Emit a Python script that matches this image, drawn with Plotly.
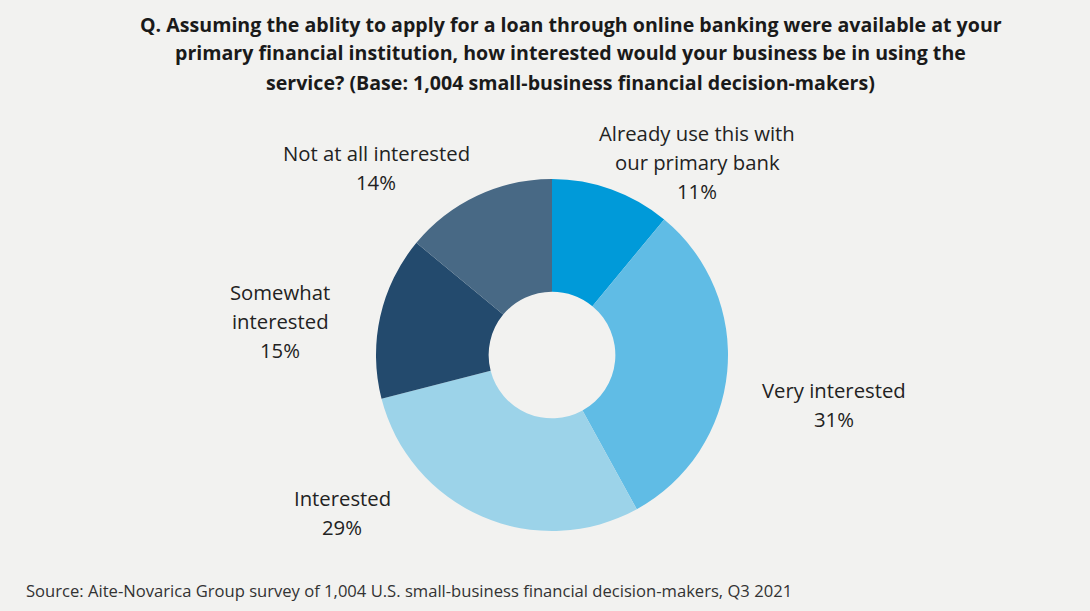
import plotly.graph_objects as go

# Survey responses (share of 1,004 respondents)
categories = [
    "Already use this with our primary bank",
    "Very interested",
    "Interested",
    "Somewhat interested",
    "Not at all interested",
]
shares = [11, 31, 29, 15, 14]
slice_colors = ["#009AD9", "#60BCE5", "#9CD3E9", "#234A6D", "#486985"]

# Label line breaks and placement (pixel centres in the 1090x611 canvas)
label_lines = [
    ["Already use this with", "our primary bank"],
    ["Very interested"],
    ["Interested"],
    ["Somewhat", "interested"],
    ["Not at all interested"],
]
label_pos = [(697, 133), (834, 390), (342, 498), (280, 292), (376, 153)]

title_lines = [
    "Q. Assuming the ablity to apply for a loan through online banking were available at your",
    "primary financial institution, how interested would your business be in using the",
    "service? (Base: 1,004 small-business financial decision-makers)",
]
source_text = "Source: Aite-Novarica Group survey of 1,004 U.S. small-business financial decision-makers, Q3 2021"

W, H = 1090, 611
FONT = "'Open Sans', Lato, sans-serif"
LINE = 29

cx, cy, r = 552, 355, 176

fig = go.Figure(
    go.Pie(
        labels=categories,
        values=shares,
        hole=0.36,
        sort=False,
        direction="clockwise",
        rotation=0,
        marker=dict(colors=slice_colors, line=dict(width=0)),
        textinfo="none",
        hoverinfo="label+percent",
        showlegend=False,
        domain=dict(
            x=[(cx - r) / W, (cx + r) / W],
            y=[(H - cy - r) / H, (H - cy + r) / H],
        ),
    )
)


def px_ann(x, y, text, size, bold=False, color="#222222", xanchor="center"):
    return dict(
        x=x / W, y=1 - y / H, xref="paper", yref="paper",
        xanchor=xanchor, yanchor="middle", showarrow=False,
        text=f"<b>{text}</b>" if bold else text,
        font=dict(family=FONT, size=size, color=color),
    )


annotations = []
for i, line in enumerate(title_lines):
    annotations.append(px_ann(571, 24 + i * LINE, line, 19.6, bold=True, color="#1a1a1a"))

for lines, share, (x, y) in zip(label_lines, shares, label_pos):
    rows = lines + [f"{share}%"]
    for j, row in enumerate(rows):
        annotations.append(px_ann(x, y + j * LINE, row, 20.3))

annotations.append(px_ann(24, 590, source_text, 16.6, color="#333333", xanchor="left"))

fig.update_layout(
    width=W,
    height=H,
    margin=dict(l=0, r=0, t=0, b=0),
    paper_bgcolor="#F2F2F0",
    plot_bgcolor="#F2F2F0",
    annotations=annotations,
)

fig.write_html("out.html")
